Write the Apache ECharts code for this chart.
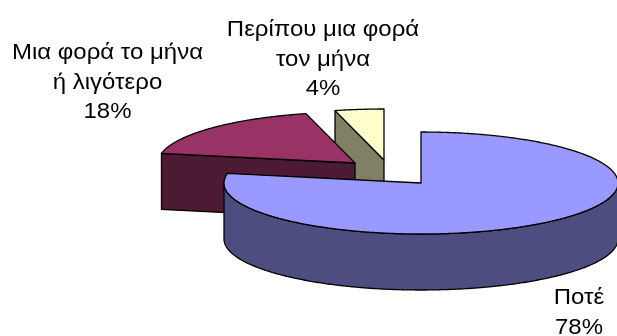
<!DOCTYPE html>
<html>
<head>
<meta charset="utf-8">
<style>html,body{margin:0;padding:0;background:#fff}#chart{width:617px;height:336px}</style>
<script src="https://cdn.jsdelivr.net/npm/echarts@6/dist/echarts.min.js"></script>
</head>
<body>
<div id="chart"></div>
<script>
// Survey shares, clockwise from twelve o'clock.
const categories = ['Ποτέ', 'Μια φορά το μήνα\nή λιγότερο', 'Περίπου μια φορά\nτον μήνα'];
const shares = [78, 18, 4];

// Styling of each wedge: top face, shaded side, pie-centre position after explosion.
const topColors = ['#9999FF', '#993366', '#FFFFCC'];
const sideColors = ['#4D4D80', '#4D1A33', '#808066'];
const centers = [[421, 183], [355, 163], [384, 160]];
const labelAnchors = [[579, 298], [107.5, 53], [323, 30]];
const layers = [30, 20, 10];

const RX = 197, RY = 51, DEPTH = 56;
const LABEL_LINE = 29.5;
const LABEL_STRETCH = 1.09;
const total = shares.reduce((a, b) => a + b, 0);

// Project an angle (degrees clockwise from the top) on to the tilted disc.
function rim(c, deg, drop) {
  const t = deg * Math.PI / 180;
  return [c[0] + RX * Math.sin(t), c[1] - RY * Math.cos(t) + (drop || 0)];
}
function arc(c, from, to, drop) {
  const pts = [];
  const n = Math.max(2, Math.ceil(Math.abs(to - from) * 2));
  for (let i = 0; i <= n; i++) pts.push(rim(c, from + (to - from) * i / n, drop));
  return pts;
}
function poly(points, fill, z2) {
  return {
    type: 'polygon', z2,
    shape: { points },
    style: { fill, stroke: '#000', lineWidth: 1.3, lineJoin: 'round' }
  };
}

function renderSlice(params, api) {
  const i = params.dataIndex;
  const c = centers[i];
  const value = api.value(0);
  let before = 0;
  for (let k = 0; k < i; k++) before += shares[k];
  const a0 = before / total * 360;
  const a1 = a0 + value / total * 360;
  const sin0 = Math.sin(a0 * Math.PI / 180);
  const z = layers[i];
  const children = [];

  // Cut face at the leading edge, shown only when it turns towards the viewer.
  if (sin0 < -1e-6) {
    const p = rim(c, a0);
    children.push(poly([c, p, [p[0], p[1] + DEPTH], [c[0], c[1] + DEPTH]], sideColors[i], z));
  }
  // Curved outer wall on the near half of the disc.
  const w0 = Math.max(a0, 90), w1 = Math.min(a1, 270);
  if (w1 > w0) {
    children.push(poly(arc(c, w0, w1).concat(arc(c, w1, w0, DEPTH)), sideColors[i], z));
  }
  // Top face.
  children.push(poly([c].concat(arc(c, a0, a1)), topColors[i], z + 1));

  // Category name and percentage, slightly widened.
  const lines = categories[i].split('\n').concat(Math.round(value / total * 100) + '%');
  lines.forEach((line, k) => {
    children.push({
      type: 'text', z2: 50,
      x: labelAnchors[i][0],
      y: labelAnchors[i][1] + k * LABEL_LINE,
      scaleX: LABEL_STRETCH,
      style: {
        text: line,
        x: 0,
        y: 0,
        fill: '#000',
        font: '22px "Liberation Sans", Arial, sans-serif',
        textAlign: 'center',
        textVerticalAlign: 'middle'
      }
    });
  });
  return { type: 'group', children };
}

const chart = echarts.init(document.getElementById('chart'), null, { renderer: 'canvas' });
chart.setOption({
  backgroundColor: '#fff',
  animation: false,
  series: [{
    type: 'custom',
    coordinateSystem: 'none',
    renderItem: renderSlice,
    data: shares.map((v, i) => ({ name: categories[i], value: [v] }))
  }]
});
</script>
</body>
</html>
